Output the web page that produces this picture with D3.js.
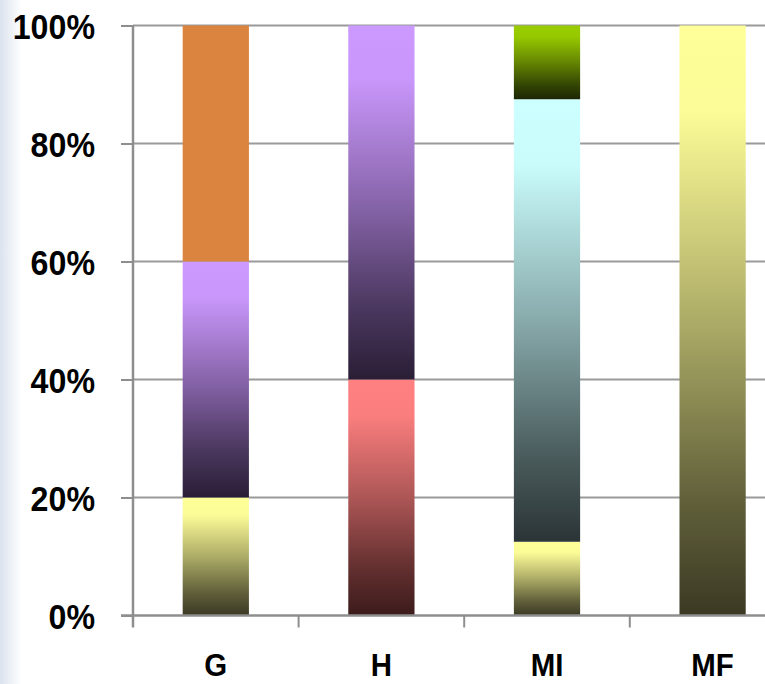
<!DOCTYPE html>
<html>
<head>
<meta charset="utf-8">
<script src="https://cdn.jsdelivr.net/npm/d3@7"></script>
<style>
  html, body { margin: 0; padding: 0; background: #ffffff; }
  svg { display: block; }
</style>
</head>
<body>
<svg id="chart" width="765" height="684"></svg>
<script>
// Category labels along the x axis
const categories = ["G", "H", "MI", "MF"];

// Percentage share of each series per category (stacked bottom to top)
const yellowVals = [20, 0, 12.5, 100];
const salmonVals = [0, 40, 0, 0];
const cyanVals   = [0, 0, 75, 0];
const purpleVals = [40, 60, 0, 0];
const greenVals  = [0, 0, 12.5, 0];
const orangeVals = [40, 0, 0, 0];

// Y axis tick values
const yTicks = [0, 20, 40, 60, 80, 100];

const seriesKeys = ["yellow", "salmon", "cyan", "purple", "green", "orange"];
const seriesVals = {
  yellow: yellowVals, salmon: salmonVals, cyan: cyanVals,
  purple: purpleVals, green: greenVals, orange: orangeVals
};
// light (top) and dark (bottom) shade for each series
const shades = {
  yellow: ["#FFFF99", "#3B3923"],
  salmon: ["#FF8080", "#3C1B1B"],
  cyan:   ["#CCFFFF", "#2B3436"],
  purple: ["#CC99FF", "#2A1E36"],
  green:  ["#99CC00", "#1C2604"],
  orange: ["#DB843F", "#DB843F"]
};

const svg = d3.select("#chart");
const W = 765, H = 684;
const FONT = "Liberation Sans, Arial, sans-serif";
const SX = 0.92;   // slightly condensed lettering

// faint bluish strip along the left edge
const defs = svg.append("defs");
const edge = defs.append("linearGradient").attr("id", "edge")
  .attr("x1", 0).attr("x2", 1).attr("y1", 0).attr("y2", 0);
edge.append("stop").attr("offset", 0).attr("stop-color", "#dbe3ee");
edge.append("stop").attr("offset", 1).attr("stop-color", "#ffffff");
svg.append("rect").attr("x", 0).attr("y", 0).attr("width", 22).attr("height", H)
  .attr("fill", "url(#edge)");

const x0 = 133, stepW = 165.6;
const x = d3.scaleBand().domain(categories)
  .range([x0, x0 + stepW * categories.length])
  .paddingInner(0.6).paddingOuter(0.3);
const xCat = d3.scaleBand().domain(categories)
  .range([x0, x0 + stepW * categories.length]).padding(0);
const y = d3.scaleLinear().domain([0, 100]).range([615.5, 25.5]);

// gradients for each series
seriesKeys.forEach(k => {
  const g = defs.append("linearGradient").attr("id", "grad-" + k)
    .attr("x1", 0).attr("x2", 0).attr("y1", 0).attr("y2", 1);
  const interp = d3.interpolateRgb(shades[k][0], shades[k][1]);
  [[0, 0], [0.15, 0.02], [0.5, 0.42], [0.8, 0.8], [1, 1]].forEach(([o, t]) => {
    g.append("stop").attr("offset", o).attr("stop-color", interp(t));
  });
});

// gridlines
svg.append("g").selectAll("line").data(yTicks.filter(d => d > 0)).join("line")
  .attr("x1", x0).attr("x2", W)
  .attr("y1", d => y(d)).attr("y2", d => y(d))
  .attr("stroke", "#9a9a9a").attr("stroke-width", 2);

// stacked bars
const rows = categories.map((c, i) => {
  const r = { cat: c };
  seriesKeys.forEach(k => r[k] = seriesVals[k][i]);
  return r;
});
const stacked = d3.stack().keys(seriesKeys)(rows);
svg.append("g").selectAll("g").data(stacked).join("g")
  .attr("fill", d => "url(#grad-" + d.key + ")")
  .selectAll("rect").data(d => d.filter(s => s[1] - s[0] > 0)).join("rect")
  .attr("x", d => x(d.data.cat))
  .attr("width", x.bandwidth())
  .attr("y", d => y(d[1]))
  .attr("height", d => y(d[0]) - y(d[1]));

// y axis
const yAxis = d3.axisLeft(y).tickValues(yTicks).tickSize(12).tickPadding(26)
  .tickFormat(d => d + "%");
const ya = svg.append("g").attr("transform", `translate(${x0},0)`).call(yAxis);
ya.select(".domain").attr("stroke", "#8e8e8e").attr("stroke-width", 2.5)
  .attr("d", `M0,${y(100)}V${y(0) + 12}`);
ya.selectAll(".tick line").attr("stroke", "#8e8e8e").attr("stroke-width", 2);
ya.selectAll(".tick text")
  .attr("fill", "#000").attr("font-family", FONT)
  .attr("font-weight", "bold").attr("font-size", 35).attr("dy", "0.36em")
  .attr("x", -38 / SX)
  .attr("transform", `scale(${SX},1)`);

// x axis
const xa = svg.append("g").attr("transform", `translate(0,${y(0)})`);
xa.append("line").attr("x1", x0 - 12).attr("x2", W).attr("y1", 0).attr("y2", 0)
  .attr("stroke", "#8e8e8e").attr("stroke-width", 2.5);
xa.selectAll("line.tk").data(categories.slice(1)).join("line").attr("class", "tk")
  .attr("x1", d => xCat(d)).attr("x2", d => xCat(d))
  .attr("y1", 0).attr("y2", 12)
  .attr("stroke", "#8e8e8e").attr("stroke-width", 2);
xa.selectAll("text").data(categories).join("text")
  .attr("x", d => (x(d) + x.bandwidth() / 2) / SX)
  .attr("y", 61)
  .attr("transform", `scale(${SX},1)`)
  .attr("text-anchor", "middle")
  .attr("fill", "#000").attr("font-family", FONT)
  .attr("font-weight", "bold").attr("font-size", 32)
  .text(d => d);
</script>
</body>
</html>
